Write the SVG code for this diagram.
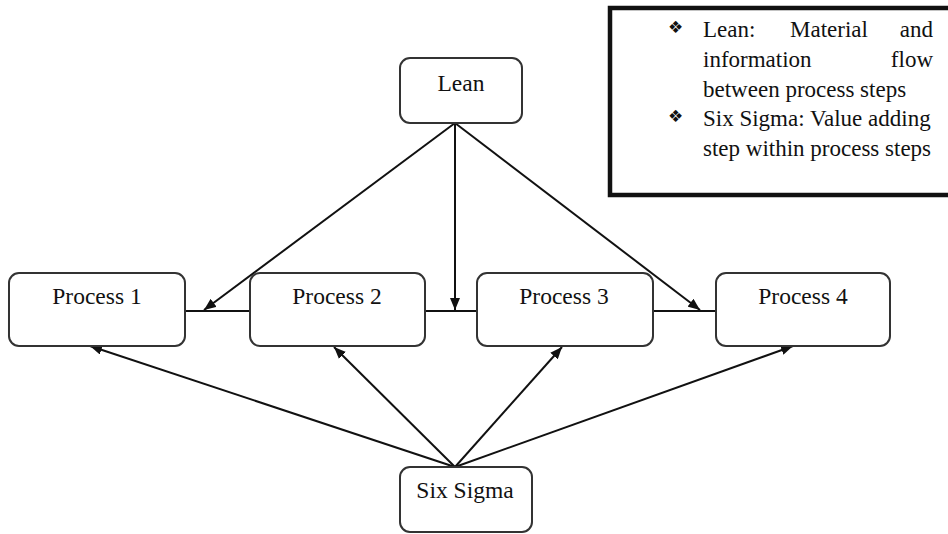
<svg xmlns="http://www.w3.org/2000/svg" width="948" height="534" viewBox="0 0 948 534">
  <style>
    .box { fill: #ffffff; stroke: #333333; stroke-width: 2; }
    .lbl { font-family: "Liberation Serif", "Times New Roman", serif; font-size: 23.5px; fill: #111111; text-anchor: middle; }
    .note { font-family: "Liberation Serif", "Times New Roman", serif; font-size: 23px; fill: #111111; }
    .bullet { font-family: "DejaVu Sans", sans-serif; font-size: 17px; fill: #111111; }
    .edge { stroke: #111111; stroke-width: 2; fill: none; }
  </style>
  <defs>
    <marker id="arrow" viewBox="0 0 12 10" refX="12" refY="5" markerWidth="12" markerHeight="10" markerUnits="userSpaceOnUse" orient="auto">
      <path d="M0,0 L12,5 L0,10 Z" fill="#111111"/>
    </marker>
  </defs>

  <rect width="948" height="534" fill="#ffffff"/>

  <!-- legend -->
  <g id="legend">
    <rect x="610" y="8" width="345" height="187" fill="#ffffff" stroke="#111111" stroke-width="4.5"/>
    <text class="bullet" x="668" y="33">❖</text>
    <text class="note" y="37"><tspan x="703">Lean:</tspan><tspan x="790">Material</tspan><tspan x="933" text-anchor="end">and</tspan></text>
    <text class="note" y="67"><tspan x="703">information</tspan><tspan x="933" text-anchor="end">flow</tspan></text>
    <text class="note" x="703" y="97">between process steps</text>
    <text class="bullet" x="668" y="122">❖</text>
    <text class="note" x="703" y="126">Six Sigma: Value adding</text>
    <text class="note" x="703" y="156">step within process steps</text>
  </g>

  <!-- connectors -->
  <g id="connectors">
    <line class="edge" x1="185" y1="311" x2="250" y2="311"/>
    <line class="edge" x1="425" y1="311" x2="477" y2="311"/>
    <line class="edge" x1="653" y1="311" x2="716" y2="311"/>
    <line class="edge" x1="455" y1="123" x2="204" y2="310" marker-end="url(#arrow)"/>
    <line class="edge" x1="455" y1="123" x2="455" y2="310" marker-end="url(#arrow)"/>
    <line class="edge" x1="455" y1="123" x2="700" y2="310" marker-end="url(#arrow)"/>
    <line class="edge" x1="455" y1="467" x2="90" y2="346" marker-end="url(#arrow)"/>
    <line class="edge" x1="455" y1="467" x2="334" y2="347" marker-end="url(#arrow)"/>
    <line class="edge" x1="455" y1="467" x2="562" y2="347" marker-end="url(#arrow)"/>
    <line class="edge" x1="455" y1="467" x2="793" y2="346" marker-end="url(#arrow)"/>
  </g>

  <g id="lean">
    <rect class="box" x="400" y="58" width="122" height="65" rx="10"/>
    <text class="lbl" x="461" y="91">Lean</text>
  </g>
  <g id="process1">
    <rect class="box" x="9" y="273" width="176" height="73" rx="10"/>
    <text class="lbl" x="97" y="304">Process 1</text>
  </g>
  <g id="process2">
    <rect class="box" x="250" y="273" width="175" height="73" rx="10"/>
    <text class="lbl" x="337" y="304">Process 2</text>
  </g>
  <g id="process3">
    <rect class="box" x="477" y="273" width="176" height="73" rx="10"/>
    <text class="lbl" x="564" y="304">Process 3</text>
  </g>
  <g id="process4">
    <rect class="box" x="716" y="273" width="174" height="73" rx="10"/>
    <text class="lbl" x="803" y="304">Process 4</text>
  </g>
  <g id="sixsigma">
    <rect class="box" x="400" y="467" width="132" height="65" rx="10"/>
    <text class="lbl" x="465" y="498">Six Sigma</text>
  </g>
</svg>
